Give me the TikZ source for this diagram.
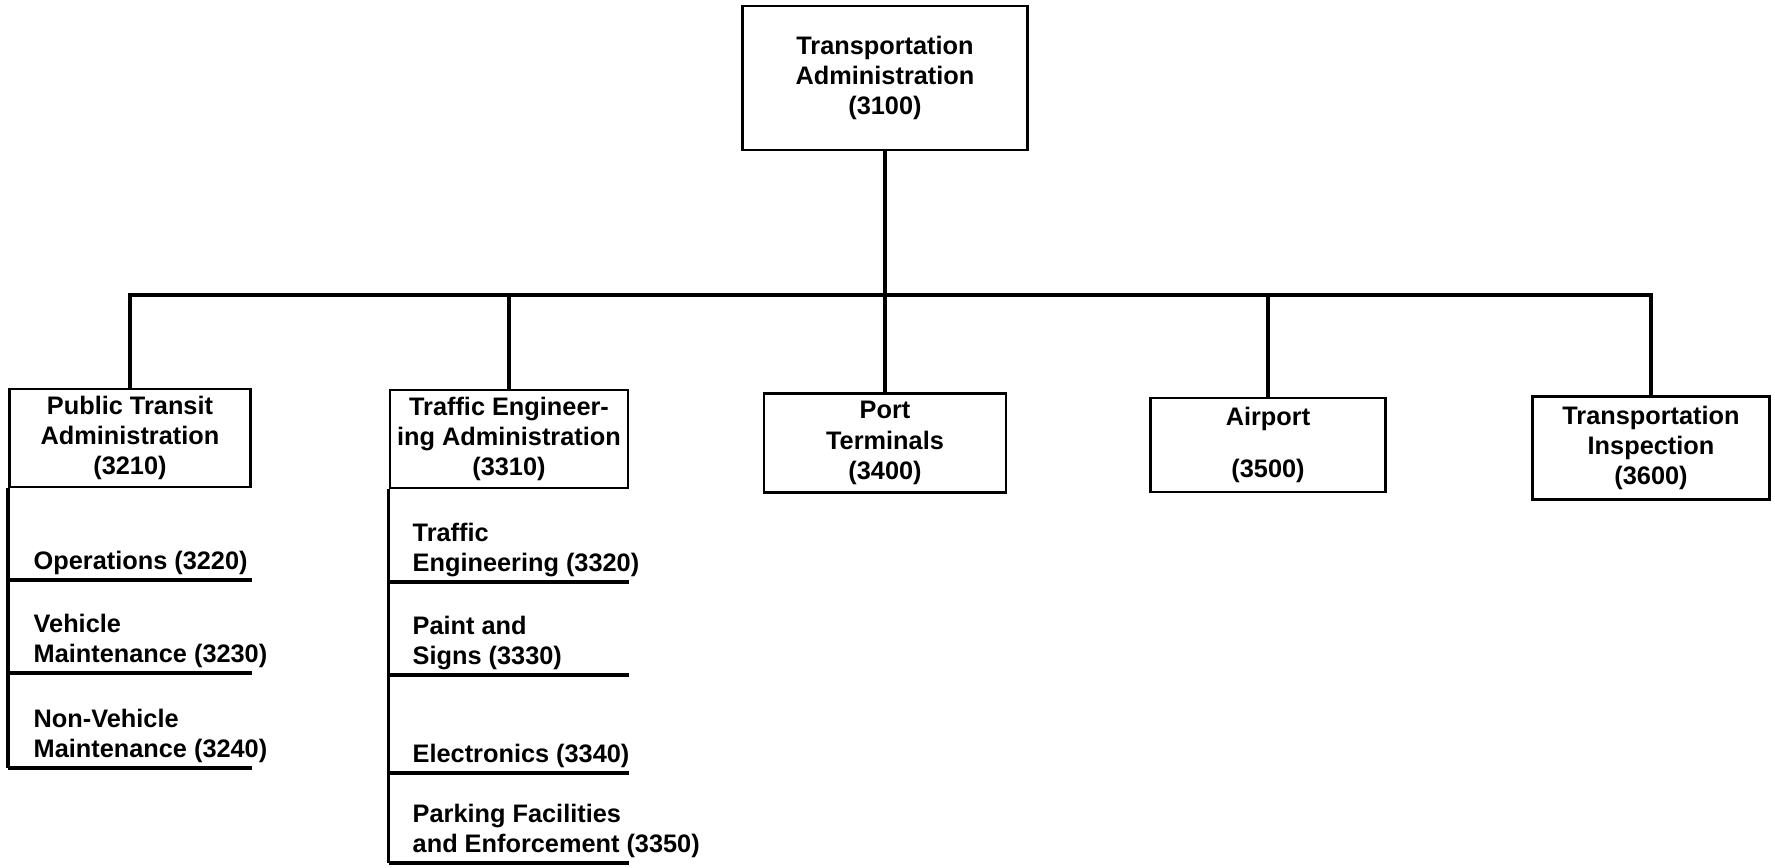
\documentclass[tikz,border=0pt]{standalone}
\usepackage{fontspec}
\setmainfont{Liberation Sans}
\newcommand{\orgfont}{\fontsize{7.2}{8.6}\selectfont\bfseries}
\tikzset{
  unit/.style={draw,rectangle,line width=0.8pt,align=center,inner sep=0pt,font=\orgfont},
  sub/.style={anchor=south west,align=left,inner xsep=0pt,inner ysep=1.3pt,font=\orgfont},
  link/.style={line width=1.4pt},
  rule/.style={line width=0.9pt},
}
\begin{document}
\begin{tikzpicture}[x=0.01cm,y=-0.01cm]
  \useasboundingbox (0,0) rectangle (1775,868);
  \node[unit,minimum width=2.85cm,minimum height=1.44cm] (ta) at (885,78) {Transportation\\Administration\\(3100)};
  \node[unit,minimum width=2.41cm,minimum height=0.98cm] (pta) at (130,438) {Public Transit\\Administration\\(3210)};
  \node[unit,minimum width=2.38cm,minimum height=0.98cm] (tea) at (509,439) {Traffic Engineer-\\ing Administration\\(3310)};
  \node[unit,minimum width=2.42cm,minimum height=0.99cm] (port) at (885,443) {Port\\Terminals\\(3400)};
  \node[unit,minimum width=2.35cm,minimum height=0.94cm] (air) at (1268,445) {Airport\\[6pt](3500)};
  \node[unit,minimum width=2.37cm,minimum height=1.03cm] (tin) at (1651,448) {Transportation\\Inspection\\(3600)};
  \coordinate (bus) at (885,295);
  \draw[link] (pta.north) |- (bus) -| (tin.north);
  \draw[link] (ta.south) -- (port.north);
  \draw[link] (tea.north) -- (tea.north |- bus);
  \draw[link] (air.north) -- (air.north |- bus);
  \node[sub] (ops) at (33,580) {Operations (3220)};
  \node[sub] (vm) at (33,673) {Vehicle\\Maintenance (3230)};
  \node[sub] (nvm) at (33,768) {Non-Vehicle\\Maintenance (3240)};
  \node[sub] (te) at (412,582) {Traffic\\Engineering (3320)};
  \node[sub] (ps) at (412,675) {Paint and\\Signs (3330)};
  \node[sub] (el) at (412,773) {Electronics (3340)};
  \node[sub] (pf) at (412,863) {Parking Facilities\\and Enforcement (3350)};
  \draw[rule] (pta.south west) -- (pta.west |- nvm.south);
  \foreach \s in {ops,vm,nvm} \draw[rule] (pta.west |- \s.south) -- (pta.east |- \s.south);
  \draw[rule] (tea.south west) -- (tea.west |- pf.south);
  \foreach \s in {te,ps,el,pf} \draw[rule] (tea.west |- \s.south) -- (tea.east |- \s.south);
\end{tikzpicture}
\end{document}
